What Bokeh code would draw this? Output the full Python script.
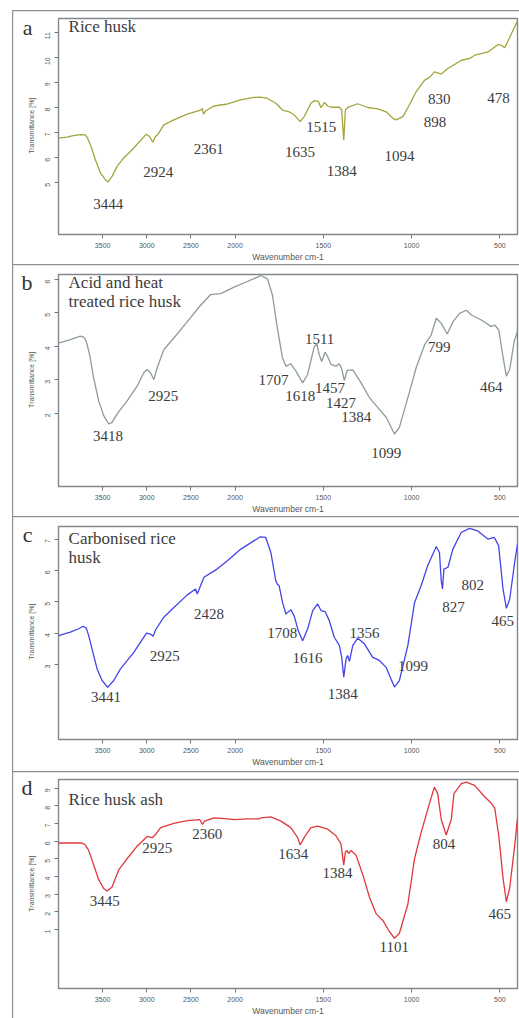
import math
import numpy as np
from bokeh.plotting import figure
from bokeh.models import Range1d, FixedTicker, LinearAxis, Label
from bokeh.layouts import column
from bokeh.embed import file_html
from bokeh.resources import INLINE
from bokeh.core.properties import value

# ---------------- data (wavenumber cm-1, transmittance %) ----------------
x_ticks = [3500, 3000, 2500, 2000, 1500, 1000, 500]

a_wn = [4000, 3904, 3847, 3753, 3696, 3670, 3631, 3582, 3525, 3469, 3438, 3393, 3336, 3279, 3147,
        3006, 2969, 2932, 2901, 2875, 2807, 2693, 2541, 2390, 2370, 2359, 2333, 2239, 2086, 1968,
        1892, 1854, 1816, 1769, 1731, 1693, 1665, 1631, 1608, 1570, 1551, 1528, 1513, 1494, 1475,
        1456, 1409, 1396, 1384, 1375, 1358, 1305, 1248, 1191, 1144, 1106, 1087, 1049, 1021, 974,
        926, 898, 870, 832, 794, 718, 671, 642, 567, 510, 491, 472, 434, 400]
a_T = [6.78, 6.82, 6.87, 6.92, 6.91, 6.78, 6.45, 5.92, 5.40, 5.13, 5.04, 5.26, 5.66, 5.92, 6.39,
       6.94, 6.85, 6.62, 6.85, 6.92, 7.31, 7.51, 7.74, 7.90, 7.96, 7.74, 7.87, 8.06, 8.14, 8.30,
       8.40, 8.41, 8.36, 8.17, 7.90, 7.83, 7.71, 7.44, 7.64, 8.17, 8.27, 8.24, 7.99, 8.20, 8.06,
       8.01, 8.01, 7.90, 6.71, 7.90, 8.02, 8.15, 8.00, 7.95, 7.83, 7.57, 7.51, 7.64, 7.99, 8.63,
       9.09, 9.20, 9.42, 9.33, 9.55, 9.88, 9.95, 10.08, 10.21, 10.51, 10.47, 10.38, 10.94, 11.44]
a_yticks = [5, 6, 7, 8, 9, 10, 11]
a_peaks = ["3444", "2924", "2361", "1635", "1515", "1384", "1094", "898", "830", "478"]
a_peak_x = [3435, 2870, 2299, 1632, 1511, 1396, 1068, 867, 843, 508]
a_peak_y = [4.17, 5.44, 6.36, 6.25, 7.23, 5.49, 6.08, 7.41, 8.32, 8.36]

b_wn = [4000, 3866, 3753, 3715, 3685, 3647, 3602, 3545, 3488, 3431, 3393, 3336, 3222, 3109, 3034,
        2996, 2958, 2920, 2882, 2807, 2693, 2541, 2390, 2276, 2162, 2011, 1930, 1873, 1854, 1816,
        1788, 1760, 1731, 1712, 1684, 1655, 1617, 1589, 1551, 1536, 1523, 1509, 1490, 1475, 1456,
        1428, 1409, 1396, 1381, 1365, 1333, 1286, 1239, 1191, 1144, 1116, 1097, 1069, 1021, 974,
        926, 889, 860, 832, 798, 765, 728, 690, 661, 605, 548, 529, 506, 481, 463, 444, 419, 400]
b_T = [4.10, 4.20, 4.31, 4.28, 4.15, 3.75, 3.06, 2.37, 1.93, 1.68, 1.73, 1.98, 2.37, 2.81, 3.21,
       3.31, 3.21, 3.01, 3.36, 3.90, 4.25, 4.74, 5.23, 5.55, 5.58, 5.77, 5.94, 6.07, 6.12, 6.02,
       5.53, 4.54, 3.65, 3.41, 3.48, 3.26, 2.91, 3.16, 4.00, 4.07, 3.75, 3.55, 3.83, 3.69, 3.46,
       3.41, 3.48, 3.33, 2.98, 3.28, 3.30, 2.91, 2.47, 2.17, 1.88, 1.58, 1.38, 1.58, 2.47, 3.36,
       4.05, 4.34, 4.84, 4.69, 4.37, 4.74, 4.99, 5.08, 4.94, 4.79, 4.59, 4.64, 4.49, 3.65, 3.11,
       3.31, 4.14, 4.46]
b_yticks = [2, 3, 4, 5, 6]
b_peaks = ["3418", "2925", "1707", "1618", "1511", "1457", "1427", "1384", "1099", "799", "464"]
b_peak_x = [3438, 2813, 1782, 1631, 1521, 1462, 1400, 1314, 1144, 843, 548]
b_peak_y = [1.33, 2.52, 2.99, 2.52, 4.22, 2.75, 2.32, 1.88, 0.81, 3.97, 2.80]

c_wn = [4000, 3866, 3772, 3722, 3685, 3658, 3620, 3563, 3506, 3443, 3374, 3298, 3147, 3003, 2958,
        2928, 2901, 2807, 2693, 2541, 2447, 2428, 2398, 2352, 2200, 2086, 1967, 1892, 1863, 1854,
        1826, 1797, 1769, 1760, 1750, 1731, 1712, 1684, 1665, 1642, 1617, 1589, 1560, 1532, 1513,
        1490, 1466, 1438, 1409, 1396, 1384, 1371, 1362, 1352, 1333, 1305, 1267, 1220, 1182, 1144,
        1125, 1097, 1069, 1021, 983, 946, 909, 860, 842, 832, 825, 817, 794, 766, 719, 672, 625,
        568, 531, 507, 482, 463, 444, 416, 400]
c_T = [3.92, 4.03, 4.14, 4.22, 4.16, 3.92, 3.50, 2.86, 2.49, 2.27, 2.49, 2.86, 3.39, 4.00, 3.97,
       3.90, 4.10, 4.51, 4.82, 5.22, 5.41, 5.25, 5.46, 5.78, 6.05, 6.31, 6.68, 6.95, 7.05, 7.07,
       7.05, 6.57, 5.67, 5.56, 5.51, 4.98, 4.61, 4.75, 4.55, 4.08, 3.76, 4.13, 4.72, 4.93, 4.72,
       4.69, 4.40, 3.87, 3.61, 3.23, 2.60, 3.18, 3.29, 3.10, 3.61, 3.84, 3.66, 3.23, 3.13, 2.91,
       2.65, 2.28, 2.49, 3.61, 4.98, 5.51, 6.15, 6.76, 6.57, 5.67, 5.41, 6.04, 6.10, 6.68, 7.21,
       7.34, 7.26, 7.00, 7.05, 6.79, 5.41, 4.79, 5.09, 6.26, 6.84]
c_yticks = [3, 4, 5, 6, 7]
c_peaks = ["3441", "2925", "2428", "1708", "1616", "1356", "1384", "1099", "827", "802", "465"]
c_peak_x = [3461, 2795, 2295, 1733, 1589, 1267, 1390, 992, 762, 654, 483]
c_peak_y = [1.98, 3.27, 4.60, 4.00, 3.20, 4.00, 2.07, 2.95, 4.82, 5.55, 4.40]

d_wn = [4000, 3847, 3733, 3696, 3658, 3601, 3545, 3488, 3450, 3393, 3318, 3222, 3109, 2996, 2938,
        2901, 2844, 2693, 2541, 2398, 2370, 2344, 2239, 2086, 2011, 1930, 1863, 1854, 1797, 1740,
        1684, 1646, 1631, 1608, 1570, 1532, 1475, 1428, 1400, 1384, 1375, 1365, 1357, 1343, 1314,
        1276, 1238, 1200, 1163, 1125, 1097, 1069, 1021, 983, 946, 909, 871, 852, 832, 804, 775,
        760, 718, 690, 643, 586, 548, 529, 506, 482, 463, 444, 416, 400]
d_T = [5.90, 5.90, 5.90, 5.79, 5.48, 4.65, 3.82, 3.32, 3.18, 3.41, 4.37, 5.02, 5.72, 6.27, 6.20,
       6.38, 6.77, 7.01, 7.17, 7.22, 6.95, 7.14, 7.32, 7.27, 7.22, 7.27, 7.27, 7.32, 7.38, 7.14,
       6.77, 6.22, 5.79, 6.22, 6.77, 6.86, 6.68, 6.31, 5.85, 4.65, 5.39, 5.48, 5.30, 5.48, 5.20,
       4.09, 2.81, 1.88, 1.51, 0.87, 0.50, 0.78, 2.43, 5.02, 6.49, 7.78, 9.07, 8.70, 7.23, 6.35,
       7.23, 8.70, 9.26, 9.35, 9.17, 8.52, 8.15, 7.88, 6.31, 3.91, 2.57, 3.36, 5.75, 7.32]
d_yticks = [1, 2, 3, 4, 5, 6, 7, 8, 9]
d_peaks = ["3445", "2925", "2360", "1634", "1384", "1101", "804", "465"]
d_peak_x = [3477, 2882, 2314, 1670, 1420, 1098, 816, 500]
d_peak_y = [2.62, 5.61, 6.40, 5.26, 4.19, 0.00, 5.85, 1.88]

titles = [["Rice husk"], ["Acid and heat", "treated rice husk"],
          ["Carbonised rice", "husk"], ["Rice husk ash"]]
letters = ["a", "b", "c", "d"]
colors = ["#a2a53c", "#8e9c95", "#4444ea", "#e0383a"]
y_title = "Transmittance [%]"
x_title = "Wavenumber cm-1"


def to_u(wn):
    """FTIR axis: the scale is halved above 2000 cm-1."""
    wn = np.asarray(wn, dtype=float)
    return np.where(wn > 2000, 2000 + (wn - 2000) / 2.0, wn)


FRAME_COL = "#80868b"
BOX_COL = "#8c9196"
TXT_COL = "#555555"
SERIF = "Liberation Serif"
SANS = "Liberation Sans"


def side_axis(tick, label, orientation, font, size, color, standoff):
    ax = LinearAxis(ticker=FixedTicker(ticks=[tick]),
                    major_label_overrides={tick: label})
    ax.axis_line_color = None
    ax.major_tick_line_color = None
    ax.minor_tick_line_color = None
    ax.major_tick_in = 0
    ax.major_tick_out = 0
    ax.major_label_orientation = orientation
    ax.major_label_text_font = font
    ax.major_label_text_font_size = size
    ax.major_label_text_color = color
    ax.major_label_standoff = standoff
    return ax


def panel(wn, T, yticks, ylim, peaks, px, py, title, title_y, letter, letter_y, ylab_y,
          color, height, top, bottom, first):
    p = figure(width=519, height=height, output_backend="svg", toolbar_location=None,
               x_range=Range1d(3000, 400), y_range=Range1d(*ylim),
               min_border_left=58, min_border_right=2, min_border_top=top,
               min_border_bottom=bottom)
    p.border_fill_color = None
    p.background_fill_color = "white"
    p.outline_line_color = FRAME_COL
    p.outline_line_width = 1.4
    p.grid.visible = False
    if first:
        shadow = ("inset 12px 0 0 #ffffff, inset 0 10px 0 #ffffff, "
                  f"inset 13.2px 0 0 {BOX_COL}, inset 0 11.2px 0 {BOX_COL}")
    else:
        shadow = f"inset 12px 0 0 #ffffff, inset 13.2px 0 0 {BOX_COL}, inset 0 1.2px 0 {BOX_COL}"
    p.styles = {"box-shadow": shadow}

    p.line(to_u(wn), T, line_color=color, line_width=1.3)

    p.text(x=list(to_u(px)), y=py, text=peaks, text_font=value(SERIF),
           text_font_size="15px", text_color="#3c3c3c", text_align="center",
           text_baseline="middle")

    for ax in (p.xaxis, p.yaxis):
        ax.axis_line_color = None
        ax.major_tick_line_color = "#777777"
        ax.major_tick_in = 0
        ax.major_tick_out = 4
        ax.minor_tick_line_color = None
        ax.major_label_text_font = SANS
        ax.major_label_text_font_size = "7px"
        ax.major_label_text_color = TXT_COL

    p.xaxis.ticker = FixedTicker(ticks=[float(v) for v in to_u(x_ticks)])
    p.xaxis.major_label_overrides = {float(u): str(t) for u, t in zip(to_u(x_ticks), x_ticks)}
    p.xaxis.major_label_standoff = 4
    p.xaxis.axis_label = x_title
    p.xaxis.axis_label_text_font = SANS
    p.xaxis.axis_label_text_font_style = "normal"
    p.xaxis.axis_label_text_font_size = "8.5px"
    p.xaxis.axis_label_text_color = TXT_COL
    p.xaxis.axis_label_standoff = 1

    p.yaxis.ticker = FixedTicker(ticks=yticks)
    p.yaxis.major_label_orientation = math.pi / 2
    p.yaxis.major_label_standoff = 7

    # y title and panel letter as outer left axes (outside the frame)
    p.add_layout(side_axis(ylab_y, y_title, math.pi / 2, SANS, "7px", TXT_COL, 8), "left")
    p.add_layout(side_axis(letter_y, letter, "horizontal", SERIF, "22px", "#333333", -11), "left")

    # title lines inside the frame
    for line, ty in zip(title, title_y):
        p.add_layout(Label(x=float(to_u(3886)), y=ty, text=line, text_font=SERIF,
                           text_font_size="17px", text_color="#3c3c3c",
                           text_align="left", text_baseline="middle"))
    return p


pa = panel(a_wn, a_T, a_yticks, (2.95, 11.54), a_peaks, a_peak_x, a_peak_y,
           titles[0], [11.22], letters[0], 11.18, 8.39, colors[0], 264, 18, 29, True)
pb = panel(b_wn, b_T, b_yticks, (-0.19, 6.15), b_peaks, b_peak_x, b_peak_y,
           titles[1], [5.92, 5.33], letters[1], 5.91, 3.84, colors[1], 252, 10, 28, False)
pc = panel(c_wn, c_T, c_yticks, (0.61, 7.40), c_peaks, c_peak_x, c_peak_y,
           titles[2], [7.03, 6.40], letters[2], 7.14, 4.94, colors[2], 255, 10, 32, False)
pd = panel(d_wn, d_T, d_yticks, (-2.35, 9.50), d_peaks, d_peak_x, d_peak_y,
           titles[3], [8.34], letters[3], 9.06, 5.19, colors[3], 247, 8, 25, False)

layout = column(pa, pb, pc, pd, spacing=0)
open("out.html", "w").write(file_html(layout, INLINE))
